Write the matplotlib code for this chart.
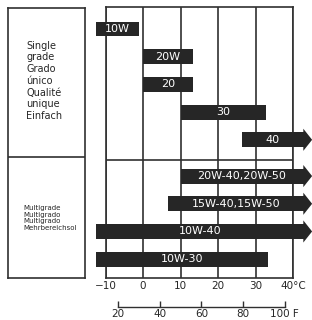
import matplotlib
matplotlib.use("Agg")
import matplotlib.pyplot as plt
import numpy as np

# single grade oils: temperature range in degC (None = open ended, drawn as arrow)
single_names = ["10W", "20W", "20", "30", "40"]
single_lo = [-12.5, 0.0, 0.0, 10.0, 26.5]
single_hi = [-1.0, 13.4, 13.4, 32.9, None]

# multigrade oils
multi_names = ["20W-40,20W-50", "15W-40,15W-50", "10W-40", "10W-30"]
multi_lo = [10.0, 6.7, -12.5, -12.5]
multi_hi = [None, None, None, 33.4]

c_ticks = [-10, 0, 10, 20, 30, 40]
c_labels = ["\u221210", "0", "10", "20", "30", "40\u00b0C"]
f_ticks = [20, 40, 60, 80, 100]
f_labels = ["20", "40", "60", "80", "100 F"]

single_text = "Single\ngrade\nGrado\núnico\nQualité\nunique\nEinfach"
multi_text = "Multigrade\nMultigrado\nMultigrado\nMehrbereichsol"

INK = "#262626"
LINE = "#303030"
ARROW_END = 42.8   # where open-ended bars stop and the head begins
ARROW_TIP = 45.1
BAR_H = 0.54
HEAD_H = 0.8


def c2f(c):
    return np.asarray(c) * 9.0 / 5.0 + 32.0


def f2c(f):
    return (np.asarray(f) - 32.0) * 5.0 / 9.0


fig = plt.figure(figsize=(3.12, 3.2), dpi=100)
fig.patch.set_facecolor("white")

# right part: temperature chart
ax = fig.add_axes([105.5 / 312, 42 / 320, 187.5 / 312, 271 / 320])
ax.set_xlim(-10, 40)
ax.set_ylim(8.99, -0.794)

y_single = np.arange(len(single_names))
y_multi = 5.31 + np.arange(len(multi_names))

names = single_names + multi_names
los = single_lo + multi_lo
his = single_hi + multi_hi
ys = list(y_single) + list(y_multi)

for name, lo, hi, y in zip(names, los, his, ys):
    end = ARROW_END if hi is None else hi
    ax.barh(y, end - lo, left=lo, height=BAR_H, color=INK, zorder=3, clip_on=False)
    if hi is None:
        ax.fill([end - 0.05, end - 0.05, ARROW_TIP], [y - HEAD_H / 2, y + HEAD_H / 2, y],
                color=INK, zorder=3, clip_on=False, lw=0)
    ax.text((lo + end) / 2, y, name, color="white", fontsize=8, ha="center",
            va="center", zorder=4)

ax.set_xticks(c_ticks, labels=c_labels)
ax.set_yticks([])
ax.grid(axis="x", color=LINE, lw=1.2, zorder=1)
ax.axhline((y_single[-1] + y_multi[0]) / 2 + 0.06, color=LINE, lw=1.2, zorder=1)
for s in ax.spines.values():
    s.set_color(LINE)
    s.set_linewidth(1.2)
ax.tick_params(axis="x", length=0, pad=2, labelsize=7.5, labelcolor=INK)

sec = ax.secondary_xaxis(-0.107, functions=(c2f, f2c))
sec.set_xticks(f_ticks, labels=f_labels)
sec.spines["bottom"].set_bounds(20, 100)
sec.spines["bottom"].set_color(LINE)
sec.spines["bottom"].set_linewidth(1.0)
sec.tick_params(direction="in", length=4, width=1.0, color=LINE, pad=1.5,
                labelsize=7.5, labelcolor=INK)

# left part: legend box
lax = fig.add_axes([8 / 312, 42 / 320, 77 / 312, 270 / 320])
lax.set_xlim(0, 1)
lax.set_ylim(0, 1)
lax.set_xticks([])
lax.set_yticks([])
for s in lax.spines.values():
    s.set_color(LINE)
    s.set_linewidth(1.2)
lax.axhline(0.448, color=LINE, lw=1.2)
lax.text(0.234, 0.73, single_text, fontsize=7, ha="left", va="center",
         linespacing=1.22, color=INK)
lax.text(0.195, 0.222, multi_text, fontsize=5, ha="left", va="center",
         linespacing=1.1, color=INK)

fig.savefig("out.png", dpi=100)
